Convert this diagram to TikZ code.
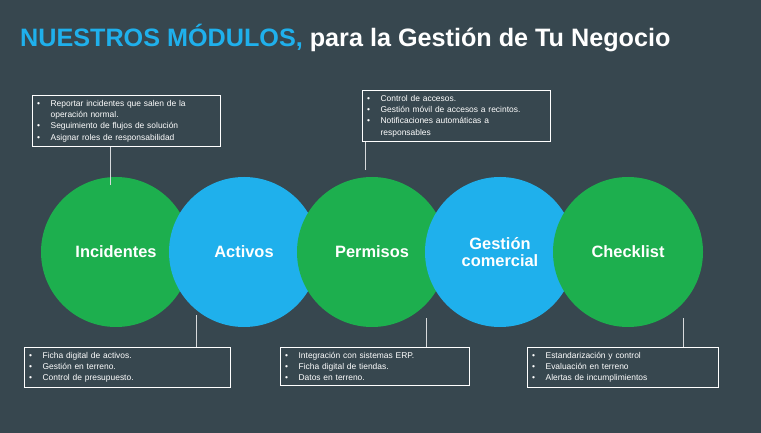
\documentclass[tikz,border=0pt]{standalone}
\usepackage{fontspec}
\setmainfont{Liberation Sans}
\definecolor{bgslate}{HTML}{37474F}
\definecolor{modgreen}{HTML}{1DAF4E}
\definecolor{modblue}{HTML}{1FB0EC}
\newcommand{\bul}[1]{\makebox[1.6em][l]{\textbullet}#1\\}
\newcommand{\cont}[1]{\hspace*{1.6em}#1\\}
\begin{document}
\begin{tikzpicture}[x=0.03cm, y=-0.03cm,
  modulo/.style={circle, minimum size=4.5cm, text=white, font=\bfseries\fontsize{14}{15}\selectfont, align=center},
  infobox/.style={draw=white, thick, text=white, anchor=north west, align=left, font=\fontsize{7.2}{9.6}\selectfont, inner sep=4pt},
  conector/.style={draw=white!80!bgslate, thin}]
\fill[bgslate] (0,0) rectangle (761,433);
\node[anchor=west, font=\bfseries\fontsize{21.5}{23}\selectfont] (T) at (16,38)
  {\textcolor{modblue}{NUESTROS MÓDULOS,} \textcolor{white}{para la Gestión de Tu Negocio}};
% modulos
\node[modulo, fill=modgreen] (I) at (116,252) {Incidentes};
\node[modulo, fill=modblue] (A) at (244,252) {Activos};
\node[modulo, fill=modgreen] (P) at (372,252) {Permisos};
\node[modulo, fill=modblue] (G) at (500,252) {Gestión\\comercial};
\node[modulo, fill=modgreen] (C) at (628,252) {Checklist};
% cajas superiores
\node[infobox, text width=5.35cm] (bI) at (32,95)
  {\bul{Reportar incidentes que salen de la}\cont{operación normal.}\bul{Seguimiento de flujos de solución}\bul{Asignar roles de responsabilidad}};
\node[infobox, text width=5.35cm] (bP) at (362,90)
  {\bul{Control de accesos.}\bul{Gestión móvil de accesos a recintos.}\bul{Notificaciones automáticas a}\cont{responsables}};
% cajas inferiores
\node[infobox, text width=5.9cm] (bA) at (24,347)
  {\bul{Ficha digital de activos.}\bul{Gestión en terreno.}\bul{Control de presupuesto.}};
\node[infobox, text width=5.4cm] (bG) at (280,347)
  {\bul{Integración con sistemas ERP.}\bul{Ficha digital de tiendas.}\bul{Datos en terreno.}};
\node[infobox, text width=5.45cm] (bC) at (527,347)
  {\bul{Estandarización y control}\bul{Evaluación en terreno}\bul{Alertas de incumplimientos}};
% conectores
\coordinate (cI) at (110,185);
\coordinate (cP) at (365,170);
\coordinate (cA) at (196,315);
\coordinate (cG) at (426,318);
\coordinate (cC) at (683,318);
\draw[conector] (bI.south west -| cI) -- (cI);
\draw[conector] (bP.south west -| cP) -- (cP);
\draw[conector] (bA.north west -| cA) -- (cA);
\draw[conector] (bG.north west -| cG) -- (cG);
\draw[conector] (bC.north west -| cC) -- (cC);
\end{tikzpicture}
\end{document}
